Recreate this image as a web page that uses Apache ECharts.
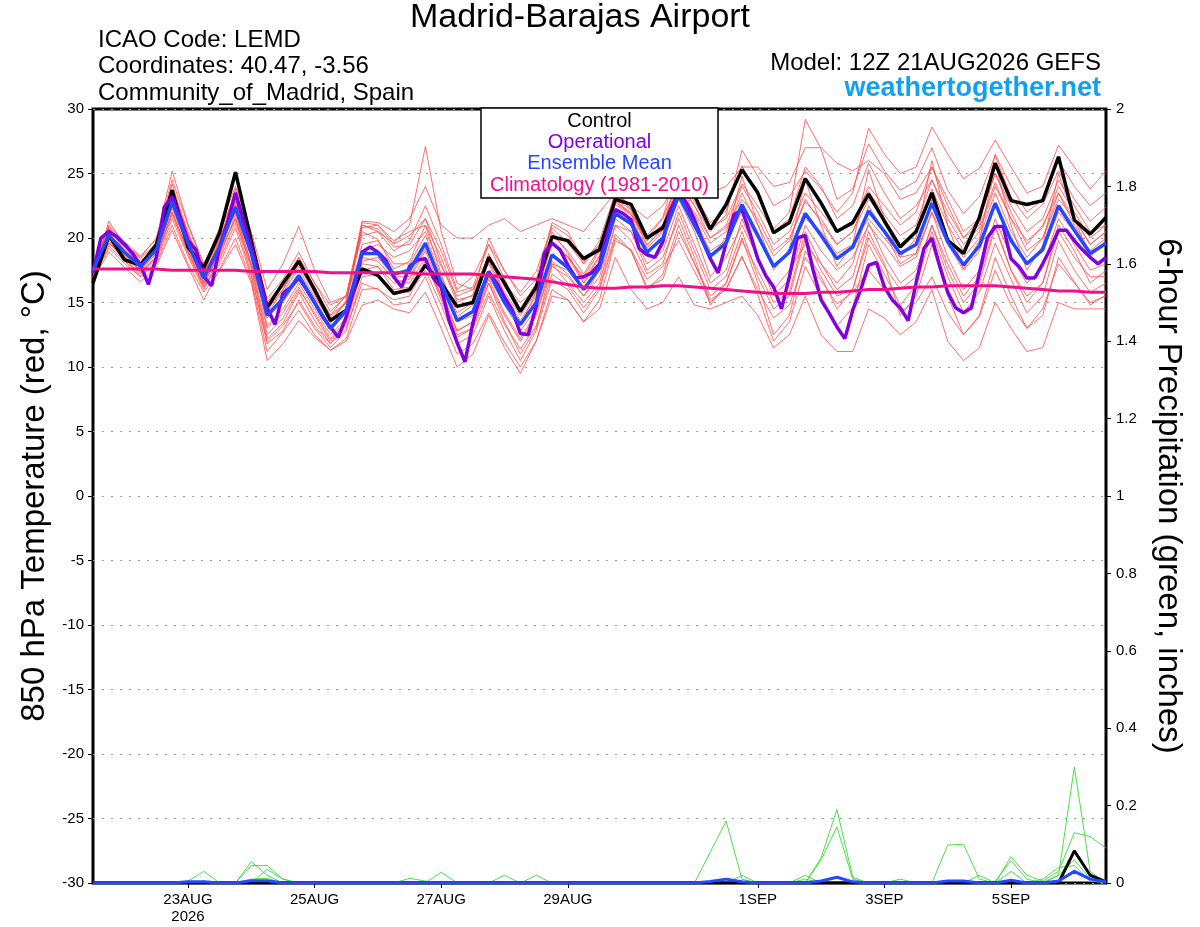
<!DOCTYPE html>
<html>
<head>
<meta charset="utf-8">
<script src="https://cdn.jsdelivr.net/npm/echarts@6/dist/echarts.min.js"></script>
<style>
html,body{margin:0;padding:0;background:#fff;}
#chart{width:1200px;height:927px;}
</style>
</head>
<body>
<div id="chart"></div>
<script>
// ---------- DATA ----------
const stepHours = 6;          // ensemble output step (hours from 12Z 21AUG2026)
const opStepHours = 3;        // operational output step
const tickHours = [36, 84, 132, 180, 252, 300, 348];
const tickLabels = ['23AUG\n2026', '25AUG', '27AUG', '29AUG', '1SEP', '3SEP', '5SEP'];

const control = [16.5,20.2,18.3,17.9,19.5,23.7,19.3,17.7,20.4,25.1,19.8,14.6,16.5,18.2,16.0,13.6,14.4,17.6,17.1,15.7,16.0,17.9,16.5,14.7,15.0,18.5,16.5,14.3,16.2,20.1,19.8,18.4,19.1,23.0,22.6,20.0,20.8,23.5,23.3,20.7,22.6,25.3,23.5,20.4,21.2,24.6,22.7,20.5,21.2,23.4,21.3,19.3,20.5,23.5,19.8,18.8,21.6,25.8,22.9,22.6,22.9,26.3,21.4,20.3,21.6];

const ensembleMean = [17.5,20.2,18.9,17.8,19.1,22.8,19.6,16.9,19.3,22.4,18.8,14.0,15.3,17.1,15.0,13.0,14.4,18.8,18.8,17.2,17.5,19.6,16.5,13.6,14.3,17.4,15.0,13.3,15.0,18.7,17.7,16.0,17.7,21.9,21.1,18.9,20.0,23.3,21.0,18.6,19.6,22.6,20.2,17.8,18.9,21.9,20.2,18.4,19.3,22.1,20.5,18.8,19.5,22.7,19.7,17.9,19.4,22.7,19.8,18.0,19.1,22.5,20.6,18.8,19.6];

const operational = [17.3,20.0,20.5,20.1,19.5,18.8,17.9,16.4,18.5,22.4,23.2,21.6,19.8,19.1,17.0,16.3,19.3,21.2,23.5,21.4,19.3,17.0,14.6,13.3,15.7,16.2,16.9,16.0,15.0,13.9,13.1,12.3,13.9,16.0,18.9,19.3,18.9,18.3,17.0,16.2,17.8,18.3,18.4,16.9,16.2,13.6,11.9,10.4,13.4,15.7,17.4,16.5,15.4,14.4,12.6,12.5,14.7,18.8,19.6,19.1,17.9,16.9,17.0,17.3,18.0,20.4,22.2,21.9,21.4,19.2,18.7,18.5,19.7,22.2,23.5,22.7,21.4,19.8,18.4,17.3,19.6,21.8,22.2,20.4,18.4,17.1,16.2,14.5,17.0,20.0,20.2,17.5,15.2,14.2,13.1,12.2,14.4,16.0,17.9,18.1,16.2,15.2,14.6,13.6,16.5,19.2,20.0,17.8,15.8,14.6,14.2,14.6,17.3,20.0,20.9,20.9,18.4,17.8,16.9,16.9,18.0,19.2,20.6,20.6,19.8,19.1,18.5,18.0,18.5];

const climatology = [17.6,17.6,17.6,17.6,17.6,17.5,17.5,17.5,17.5,17.5,17.4,17.4,17.4,17.4,17.4,17.3,17.3,17.3,17.3,17.3,17.3,17.2,17.2,17.2,17.2,17.1,17.0,16.9,16.8,16.6,16.4,16.2,16.1,16.1,16.2,16.2,16.3,16.3,16.2,16.1,16.0,15.9,15.8,15.7,15.7,15.7,15.8,15.8,15.9,16.0,16.0,16.1,16.2,16.2,16.3,16.3,16.3,16.3,16.2,16.1,16.0,15.9,15.9,15.8,15.8];

const member01 = [17.6,21.0,19.7,18.6,19.9,25.2,21.1,18.0,20.5,23.4,19.8,15.3,16.8,18.9,16.5,14.3,15.5,21.0,20.7,19.3,19.5,21.5,18.0,15.0,15.6,20.0,17.4,15.8,17.4,20.8,19.6,18.0,19.8,23.5,22.5,20.2,21.6,25.8,23.4,21.2,22.1,25.6,23.3,20.7,22.0,29.2,26.9,23.0,23.8,27.3,25.2,23.7,24.4,27.0,23.7,21.9,23.2,26.4,23.2,21.5,22.6,25.2,23.0,21.3,22.4];
const member02 = [16.8,18.9,17.7,16.6,17.8,20.6,17.8,15.2,17.6,20.0,16.7,11.2,12.7,14.4,12.5,11.3,12.2,16.0,16.1,14.8,15.0,17.0,14.0,11.0,11.8,14.2,11.9,10.0,12.0,16.0,15.2,13.5,15.2,19.8,19.1,16.8,17.8,19.8,17.4,15.0,16.1,18.5,16.0,13.8,14.8,18.5,16.7,14.9,15.8,17.5,16.0,14.3,15.0,17.0,14.2,12.5,13.9,17.5,14.8,13.0,14.0,18.5,16.6,14.8,15.6];
const member03 = [17.3,21.3,19.4,17.9,19.6,24.2,20.3,16.8,19.8,23.8,19.9,14.5,16.0,18.5,15.6,13.4,15.2,20.5,19.9,17.6,18.2,21.0,17.2,13.9,14.8,18.8,15.5,13.2,15.8,20.5,18.8,16.5,18.6,23.6,22.2,19.4,20.8,25.0,21.6,18.5,20.0,24.8,21.1,17.5,19.2,24.5,21.0,17.8,19.5,25.3,21.5,18.5,20.0,26.0,21.0,17.6,19.8,25.8,21.0,17.5,19.4,25.0,21.5,18.5,19.8];
const member04 = [17.0,19.6,18.4,17.2,18.6,22.0,19.0,16.4,18.8,21.5,17.6,12.2,13.4,15.8,13.6,11.8,13.3,17.5,17.8,16.0,16.2,18.2,15.2,12.3,13.0,15.8,13.3,11.4,13.2,17.2,16.3,14.6,16.2,20.3,19.0,16.2,16.8,20.5,18.0,15.2,16.0,18.6,15.6,12.0,13.5,17.8,15.4,13.2,14.6,19.5,17.2,14.8,16.3,20.5,17.0,14.2,15.8,19.6,16.8,14.2,15.5,19.8,17.5,15.8,16.5];
const member05 = [17.4,20.5,19.3,18.2,19.3,23.0,19.8,17.2,19.7,22.0,18.6,14.4,16.0,18.0,16.0,14.0,15.6,20.2,20.5,19.6,21.0,27.1,20.5,16.5,16.0,18.0,15.6,13.6,15.5,19.5,18.6,16.8,18.6,22.6,21.8,19.5,20.6,24.0,21.8,19.6,20.5,23.5,21.0,18.6,19.8,23.0,21.2,19.5,20.5,23.6,21.8,20.2,21.0,24.5,21.5,19.5,20.8,24.3,21.5,19.8,20.8,24.0,22.0,20.0,21.0];
const member06 = [17.2,20.8,19.0,17.6,19.0,22.6,19.5,16.8,19.0,23.0,19.5,14.8,16.2,17.8,15.8,13.8,15.0,21.2,21.0,19.5,20.2,21.5,19.0,15.8,16.2,19.5,17.5,15.5,16.8,21.2,20.5,18.2,19.5,23.0,21.8,20.0,21.5,24.5,22.5,20.5,21.8,26.8,24.8,22.5,23.2,25.2,23.8,22.0,23.5,28.5,26.5,25.0,25.5,28.6,26.5,24.6,25.4,27.6,25.5,23.5,24.0,27.2,25.5,23.8,25.2];
const member07 = [16.9,19.2,18.0,17.0,18.2,21.5,18.6,16.0,18.3,21.2,17.2,11.8,12.8,15.2,13.2,11.8,13.0,16.5,16.0,15.2,15.5,18.0,15.5,12.5,13.0,16.5,13.5,11.0,13.0,18.0,16.5,15.0,16.5,21.0,19.8,17.2,18.0,22.0,19.0,16.0,17.0,20.5,17.0,14.5,15.5,20.0,17.5,15.5,16.0,20.0,17.8,16.0,17.0,21.0,17.5,15.0,16.5,20.8,17.5,15.5,16.5,20.5,18.5,17.0,17.0];
const member08 = [17.5,20.0,18.7,17.5,18.8,22.5,19.2,16.5,18.8,22.8,19.2,13.2,14.5,16.5,14.5,12.5,13.8,18.2,18.5,17.0,17.0,19.2,16.5,13.5,14.0,17.0,14.8,12.8,14.5,18.2,17.2,15.5,17.5,22.3,21.5,19.2,20.5,23.8,21.5,19.0,19.8,22.0,20.0,17.8,19.0,21.5,20.5,18.8,19.5,21.5,20.0,18.5,18.8,22.0,19.5,17.5,19.0,22.5,20.0,18.0,19.0,22.0,20.5,18.8,19.5];
const member09 = [17.0,19.8,18.2,17.0,18.0,21.0,18.0,15.8,17.5,19.5,16.5,10.5,11.8,13.6,12.3,11.3,12.0,14.8,15.2,14.5,14.2,15.8,13.0,10.0,11.0,14.0,11.5,9.5,12.0,15.5,15.2,13.5,14.5,18.5,16.0,14.5,15.0,17.0,14.8,14.5,15.0,15.5,14.0,11.5,12.5,15.5,12.5,11.2,11.2,14.5,13.8,12.5,13.5,16.0,12.0,10.5,11.5,15.0,13.0,11.2,11.5,15.0,14.5,14.5,14.5];
const member10 = [17.6,20.9,19.5,18.5,20.0,24.5,21.0,17.8,20.8,24.0,20.5,16.0,18.0,20.9,17.5,15.0,15.5,21.3,21.2,20.5,21.5,24.0,21.0,20.0,20.0,21.0,21.5,20.5,21.0,21.5,21.0,20.5,22.0,23.5,22.5,21.5,22.5,24.5,24.0,23.5,24.0,25.5,25.5,24.0,24.3,27.0,27.0,25.8,25.2,26.0,25.0,23.0,23.5,25.5,22.5,20.0,21.5,25.0,22.0,19.5,21.0,23.5,21.5,19.5,20.5];
const member11 = [17.3,20.4,19.0,17.9,19.2,23.5,20.2,17.3,19.5,22.0,18.0,13.8,15.0,16.8,14.8,12.8,14.2,19.5,19.8,18.0,18.0,20.2,17.0,14.2,15.0,18.2,15.8,14.0,15.8,19.8,18.5,16.5,18.0,22.0,21.5,19.0,20.0,23.0,20.5,17.0,18.5,21.0,18.5,16.0,17.5,19.5,18.0,16.5,18.0,22.5,20.5,18.0,18.8,23.0,20.0,18.5,20.0,23.5,20.5,18.5,20.0,23.5,21.0,19.0,20.0];
const member12 = [17.1,20.1,18.6,17.4,18.5,22.0,19.0,16.2,18.5,21.8,18.0,13.0,14.2,16.2,14.0,12.0,13.5,18.0,17.8,16.5,16.8,19.0,16.0,12.8,13.5,16.5,14.0,12.0,14.0,17.8,17.0,15.5,17.0,21.0,20.5,18.0,19.0,22.5,19.5,16.5,17.5,21.5,18.5,15.5,16.8,21.0,19.0,17.5,18.5,21.0,19.5,17.8,18.5,22.0,18.5,16.0,17.5,21.5,18.5,16.5,17.8,21.5,19.5,17.5,18.0];
const member13 = [17.7,20.6,19.5,18.4,19.6,23.8,20.5,17.5,20.0,22.5,19.0,15.0,16.5,18.5,16.5,14.8,15.5,19.0,19.5,18.5,19.0,20.5,17.8,15.5,16.0,18.5,16.5,15.0,16.0,19.5,18.5,17.0,19.0,23.0,22.2,20.0,21.0,24.2,22.5,20.0,21.0,24.0,22.0,19.5,20.5,23.5,22.0,20.5,21.0,24.0,22.5,21.0,22.0,25.5,23.0,20.5,21.5,25.0,22.5,20.5,21.5,24.5,22.5,20.5,21.0];
const member14 = [17.2,19.6,18.5,17.5,18.8,22.3,19.3,16.6,19.0,21.5,17.8,12.5,13.8,16.0,14.2,12.2,13.6,18.5,18.2,16.8,16.5,18.5,15.5,12.8,13.5,16.8,14.2,12.2,14.2,18.0,17.5,16.0,17.5,21.5,20.5,17.5,18.5,21.5,18.5,14.8,16.5,20.0,16.5,12.5,14.0,19.0,17.0,14.5,16.0,20.5,18.0,14.0,15.5,19.5,15.5,12.5,14.0,18.5,15.5,13.0,14.5,18.0,16.5,15.0,15.5];
const member15 = [17.4,20.7,19.2,18.0,19.4,23.2,20.0,17.0,19.6,22.6,19.0,14.2,15.8,17.6,15.4,13.6,15.0,21.0,20.5,19.0,19.8,22.5,19.5,16.0,17.0,19.5,16.8,14.5,16.5,21.0,20.2,18.0,19.5,22.8,22.0,19.8,21.0,24.8,22.8,20.8,21.5,24.2,22.5,20.5,21.5,25.5,24.0,21.5,22.5,25.8,23.5,21.5,22.5,24.5,22.0,20.0,21.0,26.5,24.0,22.0,23.0,26.0,24.0,22.5,23.5];
const member16 = [16.9,19.4,18.2,17.3,18.4,21.8,18.8,16.2,18.0,20.8,17.0,12.0,13.2,15.0,13.0,11.5,12.8,17.0,17.2,15.8,15.8,17.5,14.8,11.8,12.5,15.5,12.8,10.5,12.8,16.8,16.0,14.2,16.0,20.0,19.0,16.0,17.2,21.0,18.0,15.5,16.5,19.8,17.5,15.0,15.8,20.5,18.0,16.0,17.0,21.2,18.5,16.5,17.5,21.0,18.0,15.5,17.0,21.0,17.5,15.0,16.5,21.0,19.0,16.5,17.5];
const member17 = [17.5,20.3,19.0,18.0,19.2,23.6,20.4,17.4,19.9,23.0,19.4,14.6,16.4,18.2,16.0,14.0,15.0,20.8,21.0,19.8,20.5,21.0,18.5,15.2,15.5,18.6,16.2,14.5,16.2,20.2,19.0,17.2,19.2,22.8,21.8,19.8,21.0,23.5,22.0,20.0,20.8,23.0,21.5,19.0,20.0,22.8,21.5,19.5,20.5,23.0,21.5,19.5,20.5,23.8,21.0,19.0,20.5,24.0,21.5,19.0,20.0,23.0,21.5,19.5,20.5];
const members = [member01, member02, member03, member04, member05, member06, member07, member08, member09, member10, member11, member12, member13, member14, member15, member16, member17];

// 6-hour precipitation (inches)
const precip01 = [0,0,0,0,0,0,0.005,0.03,0,0, 0.055,0.02,0,0,0,0,0,0,0,0, 0,0,0,0,0,0,0,0,0,0, 0,0,0,0,0,0,0,0,0,0.08, 0.16,0.01,0,0,0,0,0.065,0.19,0.015,0, 0,0,0,0,0.098,0.1,0.01,0,0,0, 0,0.02,0.30,0.03,0];
const precip02 = [0,0,0,0,0,0,0,0,0,0, 0.045,0.045,0.01,0,0,0,0,0,0,0, 0,0,0.028,0,0,0,0,0,0,0, 0,0,0,0,0,0,0,0,0,0, 0,0.02,0,0,0,0,0.06,0.145,0.01,0, 0,0,0,0,0,0,0,0,0.068,0.02, 0.005,0.03,0.13,0.12,0.09];
const precip03 = [0,0,0,0,0,0,0,0.005,0,0, 0,0.035,0.01,0,0,0,0,0,0,0, 0.012,0.005,0,0,0,0,0.02,0,0.02,0, 0,0,0,0,0,0,0,0,0,0, 0,0,0,0,0,0.02,0,0,0,0, 0,0.01,0,0,0,0,0,0.005,0.058,0.01, 0,0.02,0.06,0.01,0];
const precip04 = [0,0,0,0,0,0,0,0,0,0, 0.01,0.012,0,0,0,0,0,0,0,0, 0,0,0,0,0,0,0,0,0,0, 0,0,0,0,0,0,0,0,0,0, 0,0,0,0,0,0.01,0,0,0,0, 0,0,0,0,0,0,0.02,0,0.03,0, 0.01,0.04,0.045,0.005,0];
const precipMembers = [precip01, precip02, precip03, precip04];
const controlPrecip = [0,0,0,0,0,0,0,0,0,0, 0,0,0,0,0,0,0,0,0,0, 0,0,0,0,0,0,0,0,0,0, 0,0,0,0,0,0,0,0,0,0, 0,0,0,0,0,0,0,0,0,0, 0,0,0,0,0,0,0,0,0,0, 0,0,0.083,0.02,0.003];
const meanPrecip = [0,0,0,0,0,0,0.003,0.003,0,0, 0.006,0.006,0,0,0,0,0,0,0,0, 0,0,0,0,0,0,0,0,0,0, 0,0,0,0,0,0,0,0,0,0.004, 0.01,0.003,0,0,0,0,0.005,0.015,0.003,0, 0,0,0,0,0.005,0.005,0,0,0.007,0, 0,0.005,0.03,0.01,0.003];

// ---------- CHART ----------
const FONT = '"Liberation Sans", Arial, Helvetica, sans-serif';
const toPairs = (arr, step) => arr.map((v, i) => [i * step, v]);
const labelMap = {};
tickHours.forEach((h, k) => { labelMap[h] = tickLabels[k]; });

const series = [];
members.forEach((m, k) => series.push({
  type: 'line', name: 'Member ' + (k + 1), data: toPairs(m, stepHours),
  symbol: 'none', silent: true, z: 2,
  lineStyle: { color: '#ff4a4a', width: 0.8 }
}));
precipMembers.forEach((p, k) => series.push({
  type: 'line', name: 'Precip member ' + (k + 1), yAxisIndex: 1, data: toPairs(p, stepHours),
  symbol: 'none', silent: true, z: 3,
  lineStyle: { color: '#33dd33', width: 0.9 }
}));
series.push({ type: 'line', name: 'Control precip', yAxisIndex: 1, data: toPairs(controlPrecip, stepHours),
  symbol: 'none', z: 4, lineStyle: { color: '#000', width: 3 } });
series.push({ type: 'line', name: 'Mean precip', yAxisIndex: 1, data: toPairs(meanPrecip, stepHours),
  symbol: 'none', z: 5, lineStyle: { color: '#2448ff', width: 3 } });
series.push({ type: 'line', name: 'Control', data: toPairs(control, stepHours),
  symbol: 'none', z: 5, lineStyle: { color: '#000', width: 3.5 } });
series.push({ type: 'line', name: 'Operational', data: toPairs(operational, opStepHours),
  symbol: 'none', z: 6, lineStyle: { color: '#8000e0', width: 3.5 } });
series.push({ type: 'line', name: 'Ensemble Mean', data: toPairs(ensembleMean, stepHours),
  symbol: 'none', z: 7, lineStyle: { color: '#2448ff', width: 3.5 } });
series.push({ type: 'line', name: 'Climatology (1981-2010)', data: toPairs(climatology, stepHours),
  symbol: 'none', z: 8, lineStyle: { color: '#f0108a', width: 3 } });

function txt(text, x, y, size, color, align, weight) {
  return { type: 'text', z: 101, x: x, y: y,
    style: { text: text, x: 0, y: 0, fill: color, font: (weight || 'normal') + ' ' + size + 'px ' + FONT,
      fontSize: size, fontFamily: FONT, fontWeight: weight || 'normal',
      align: align, textAlign: align, verticalAlign: 'middle', textVerticalAlign: 'middle' } };
}

const chart = echarts.init(document.getElementById('chart'), null, { renderer: 'canvas' });
chart.setOption({
  animation: false,
  backgroundColor: '#fff',
  textStyle: { fontFamily: FONT },
  grid: { left: 93, right: 94, top: 109, bottom: 44, show: true, borderColor: '#000', borderWidth: 3, backgroundColor: 'transparent' },
  xAxis: {
    type: 'value', min: 0, max: 384, interval: 12, position: 'bottom',
    axisLine: { show: false, onZero: false },
    axisTick: { show: true, length: 5, customValues: tickHours, lineStyle: { color: '#000', width: 1 } },
    splitLine: { show: false },
    axisLabel: { customValues: tickHours, formatter: v => labelMap[v] || '', fontSize: 15, color: '#000', margin: 8, lineHeight: 17, fontFamily: FONT }
  },
  yAxis: [
    { type: 'value', min: -30, max: 30, interval: 5, position: 'left',
      axisLine: { show: false, onZero: false },
      axisTick: { show: true, length: 5, lineStyle: { color: '#000', width: 1 } },
      axisLabel: { fontSize: 15, color: '#000', margin: 9, fontFamily: FONT },
      splitLine: { show: true, lineStyle: { color: '#9a9a9a', type: [2, 7], width: 1 } },
      name: '850 hPa Temperature (red, °C)', nameLocation: 'middle', nameGap: 42,
      nameTextStyle: { fontSize: 33, color: '#000', fontFamily: FONT } },
    { type: 'value', min: 0, max: 2, interval: 0.2, position: 'right',
      axisLine: { show: false, onZero: false },
      axisTick: { show: true, length: 5, lineStyle: { color: '#000', width: 1 } },
      axisLabel: { fontSize: 15, color: '#000', margin: 10, fontFamily: FONT },
      splitLine: { show: false },
      name: '6-hour Precipitation (green, inches)', nameLocation: 'middle', nameGap: 46, nameRotate: -90,
      nameTextStyle: { fontSize: 33, color: '#000', fontFamily: FONT } }
  ],
  graphic: [
    txt('Madrid-Barajas Airport', 580, 18, 34, '#000', 'center'),
    txt('ICAO Code: LEMD', 98, 40, 24, '#000', 'left'),
    txt('Coordinates: 40.47, -3.56', 98, 66, 24, '#000', 'left'),
    txt('Community_of_Madrid, Spain', 98, 93, 24, '#000', 'left'),
    txt('Model: 12Z 21AUG2026 GEFS', 1101, 63, 24, '#000', 'right'),
    txt('weathertogether.net', 1101, 89, 27, '#12a0f0', 'right', 'bold'),
    { type: 'rect', z: 100, shape: { x: 481, y: 108, width: 237, height: 90 },
      style: { fill: '#fff', stroke: '#000', lineWidth: 1.5 } },
    txt('Control', 599.5, 121, 20, '#000', 'center'),
    txt('Operational', 599.5, 142, 20, '#8000e0', 'center'),
    txt('Ensemble Mean', 599.5, 163, 20, '#2448ff', 'center'),
    txt('Climatology (1981-2010)', 599.5, 185, 20, '#f0108a', 'center')
  ],
  series: series
});
</script>
</body>
</html>
